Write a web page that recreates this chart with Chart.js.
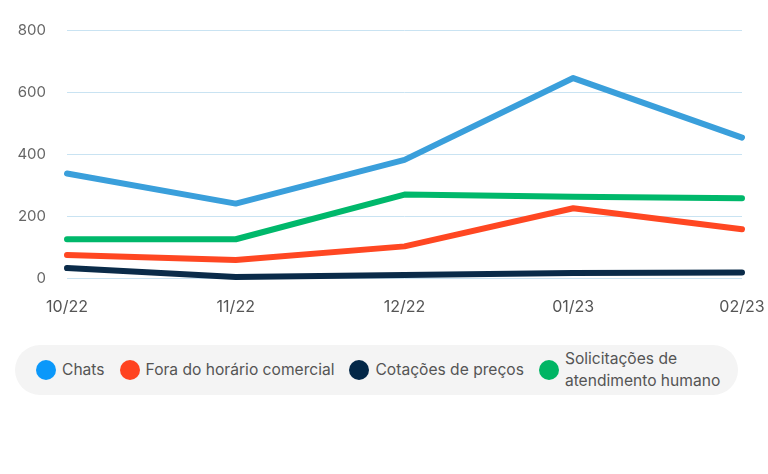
<!DOCTYPE html>
<html lang="pt">
<head>
    <meta charset="UTF-8">
    <title>Atendimentos por mês</title>
    <script src="https://cdn.jsdelivr.net/npm/chart.js"></script>
    <style>
        body { margin: 0; background: #fff; font-family: Inter, sans-serif; }
        .wrap { position: relative; width: 768px; height: 474px; }
        .chart-box { position: absolute; left: 0; top: 0; width: 768px; height: 330px; }
        .legend {
            position: absolute; left: 15px; top: 345px; width: 723px; height: 50px;
            background: #f4f4f4; border-radius: 25px; box-sizing: border-box;
            display: flex; align-items: center; padding-left: 21px;
        }
        .legend .item { display: flex; align-items: center; margin-right: 15px; color: #555; font-size: 15.6px; line-height: 22px; white-space: nowrap; }
        .legend .dot { width: 20px; height: 20px; border-radius: 50%; margin-right: 6px; flex: none; }
    </style>
</head>
<body>
<div class="wrap">
    <div class="chart-box"><canvas id="lineChart"></canvas></div>
    <div class="legend" id="legend"></div>
</div>
<script>
    const months = ['10/22', '11/22', '12/22', '01/23', '02/23'];
    const chats = [337, 240, 381, 645, 453];
    const foraHorario = [74, 58, 102, 225, 157];
    const cotacoes = [32, 3, 10, 16, 18];
    const solicitacoes = [125, 125, 269, 262, 257];
    const yTicks = [0, 200, 400, 600, 800];

    const series = [
        { label: 'Chats', data: chats, line: '#3a9fdb', dot: '#0b98fa' },
        { label: 'Fora do horário comercial', data: foraHorario, line: '#ff4722', dot: '#ff4320' },
        { label: 'Cotações de preços', data: cotacoes, line: '#0a2b49', dot: '#032848' },
        { label: ['Solicitações de', 'atendimento humano'], data: solicitacoes, line: '#00b86b', dot: '#00b564' }
    ];

    const ctx = document.getElementById('lineChart').getContext('2d');
    new Chart(ctx, {
        type: 'line',
        data: {
            labels: months,
            datasets: series.map(s => ({
                label: Array.isArray(s.label) ? s.label.join(' ') : s.label,
                data: s.data,
                borderColor: s.line,
                backgroundColor: s.line,
                borderWidth: 6,
                borderCapStyle: 'round',
                borderJoinStyle: 'round',
                pointRadius: 0,
                tension: 0,
                clip: false
            })).reverse()
        },
        options: {
            responsive: true,
            maintainAspectRatio: false,
            animation: false,
            layout: { padding: { top: 29, right: 26, left: 2, bottom: 0 } },
            scales: {
                x: {
                    offset: false,
                    grid: { display: false },
                    border: { display: false },
                    ticks: { color: '#555', font: { family: 'Inter', size: 16 }, padding: 12, maxRotation: 0 },
                    afterFit: s => { s.height = 52; s.paddingLeft = 0; s.paddingRight = 0; }
                },
                y: {
                    min: 0,
                    max: 800,
                    afterBuildTicks: s => { s.ticks = yTicks.map(v => ({ value: v })); },
                    grid: { color: '#c9e3f2', lineWidth: 1, drawTicks: false },
                    border: { display: false },
                    ticks: { color: '#666', font: { family: 'Inter', size: 15 }, padding: 21 },
                    afterFit: s => { s.width = 65; }
                }
            },
            plugins: {
                legend: { display: false },
                tooltip: { enabled: false }
            }
        }
    });

    const legend = document.getElementById('legend');
    series.forEach(s => {
        const item = document.createElement('div');
        item.className = 'item';
        const dot = document.createElement('span');
        dot.className = 'dot';
        dot.style.background = s.dot;
        const txt = document.createElement('span');
        txt.innerHTML = Array.isArray(s.label) ? s.label.join('<br>') : s.label;
        item.appendChild(dot);
        item.appendChild(txt);
        legend.appendChild(item);
    });
</script>
</body>
</html>
